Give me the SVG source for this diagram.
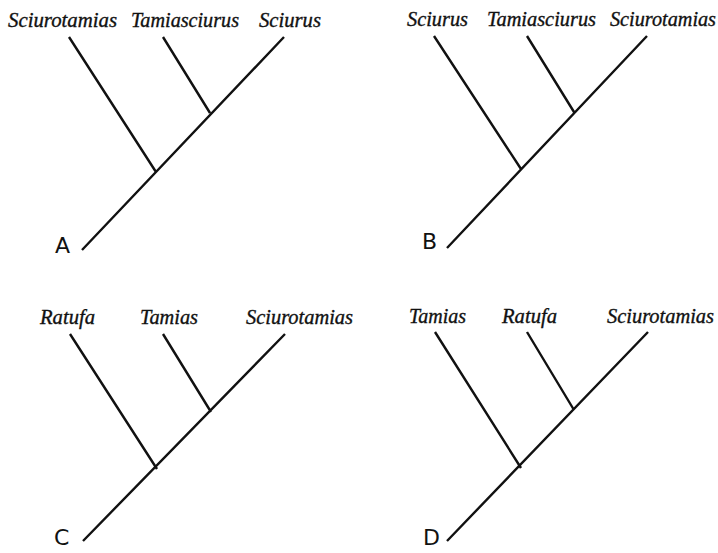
<svg xmlns="http://www.w3.org/2000/svg" width="718" height="553" viewBox="0 0 718 553">
<style>
.t{font-family:"Liberation Serif","Times New Roman",serif;font-style:italic;font-size:20px;fill:#111;stroke:#111;stroke-width:0.35}
.p{font-family:"DejaVu Sans","Liberation Sans",sans-serif;font-size:22px;fill:#111}
.e{stroke:#111;stroke-width:2.4;fill:none;stroke-linecap:butt}
</style>
<rect width="718" height="553" fill="#fff"/>
<g id="treeA">
<g id="A-Sciurotamias"><text class="t" x="8" y="27" textLength="109" lengthAdjust="spacingAndGlyphs">Sciurotamias</text></g>
<g id="A-Tamiasciurus"><text class="t" x="131" y="27" textLength="108" lengthAdjust="spacingAndGlyphs">Tamiasciurus</text></g>
<g id="A-Sciurus"><text class="t" x="259" y="27" textLength="62" lengthAdjust="spacingAndGlyphs">Sciurus</text></g>
<g id="A-label"><text class="p" x="55" y="253">A</text></g>
</g>
<g id="treeB">
<g id="B-Sciurus"><text class="t" x="407" y="26" textLength="61" lengthAdjust="spacingAndGlyphs">Sciurus</text></g>
<g id="B-Tamiasciurus"><text class="t" x="487" y="26" textLength="109" lengthAdjust="spacingAndGlyphs">Tamiasciurus</text></g>
<g id="B-Sciurotamias"><text class="t" x="610" y="26" textLength="106" lengthAdjust="spacingAndGlyphs">Sciurotamias</text></g>
<g id="B-label"><text class="p" x="422" y="249">B</text></g>
</g>
<g id="treeC">
<g id="C-Ratufa"><text class="t" x="40" y="324" textLength="55" lengthAdjust="spacingAndGlyphs">Ratufa</text></g>
<g id="C-Tamias"><text class="t" x="140" y="324" textLength="58" lengthAdjust="spacingAndGlyphs">Tamias</text></g>
<g id="C-Sciurotamias"><text class="t" x="246" y="324" textLength="107" lengthAdjust="spacingAndGlyphs">Sciurotamias</text></g>
<g id="C-label"><text class="p" x="54" y="545">C</text></g>
</g>
<g id="treeD">
<g id="D-Tamias"><text class="t" x="409" y="323" textLength="57" lengthAdjust="spacingAndGlyphs">Tamias</text></g>
<g id="D-Ratufa"><text class="t" x="502" y="323" textLength="55" lengthAdjust="spacingAndGlyphs">Ratufa</text></g>
<g id="D-Sciurotamias"><text class="t" x="607" y="323" textLength="107" lengthAdjust="spacingAndGlyphs">Sciurotamias</text></g>
<g id="D-label"><text class="p" x="423" y="545">D</text></g>
</g>
<g id="connectors">
<path class="e" d="M82 250 L284 37 M156 172 L69 37 M210 113 L163 37"/>
<path class="e" d="M447 248 L647 36 M521 169 L434 36 M574 112 L527 36"/>
<path class="e" d="M83 541 L285 334 M157 469 L70 334 M211 412 L163 334"/>
<path class="e" d="M447 541 L648 332 M521 468 L435 332 M574 410 L527 332"/>
</g>
</svg>
